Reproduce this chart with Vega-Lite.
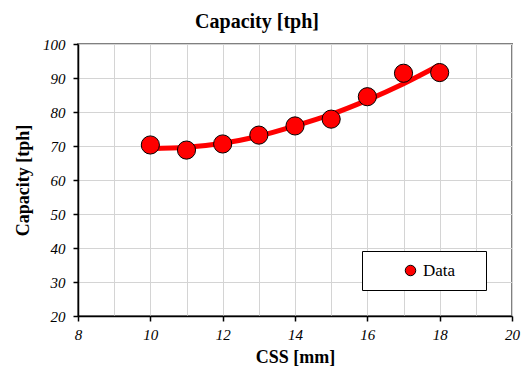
{
  "$schema": "https://vega.github.io/schema/vega-lite/v6.json",
  "width": 434,
  "height": 272,
  "autosize": {"type": "none"},
  "padding": {"left": 78, "top": 44, "right": 12, "bottom": 53},
  "background": "white",
  "config": {
    "font": "Liberation Serif",
    "view": {"stroke": "#808080", "strokeWidth": 2},
    "axis": {"labelFont": "Liberation Serif", "titleFont": "Liberation Serif"},
    "legend": {"labelFont": "Liberation Serif", "titleFont": "Liberation Serif"}
  },
  "title": {
    "text": "Capacity [tph]",
    "font": "Liberation Serif",
    "fontSize": 20,
    "fontWeight": "bold",
    "color": "black",
    "anchor": "middle",
    "dx": -38,
    "offset": 5
  },
  "datasets": {
    "points": [
      {"css": 10, "cap": 70.3, "series": "Data"},
      {"css": 11, "cap": 68.8, "series": "Data"},
      {"css": 12, "cap": 70.6, "series": "Data"},
      {"css": 13, "cap": 73.2, "series": "Data"},
      {"css": 14, "cap": 75.9, "series": "Data"},
      {"css": 15, "cap": 77.9, "series": "Data"},
      {"css": 16, "cap": 84.5, "series": "Data"},
      {"css": 17, "cap": 91.4, "series": "Data"},
      {"css": 18, "cap": 91.6, "series": "Data"}
    ],
    "trend": [
      {"css": 10, "cap": 69.2},
      {"css": 11, "cap": 69.6},
      {"css": 12, "cap": 70.8},
      {"css": 13, "cap": 72.9},
      {"css": 14, "cap": 75.9},
      {"css": 15, "cap": 79.3},
      {"css": 16, "cap": 83.5},
      {"css": 17, "cap": 88.3},
      {"css": 18, "cap": 93.8}
    ]
  },
  "encoding": {
    "x": {
      "field": "css",
      "type": "quantitative",
      "scale": {"domain": [8, 20], "nice": false, "zero": false},
      "axis": {
        "title": "CSS [mm]",
        "values": [8, 9, 10, 11, 12, 13, 14, 15, 16, 17, 18, 19, 20],
        "labelExpr": "datum.value % 2 == 0 ? datum.label : ''",
        "grid": true,
        "gridColor": "#d4d4d4",
        "gridWidth": 1,
        "domainColor": "black",
        "domainWidth": 1.5,
        "tickColor": {"condition": {"test": "datum.value % 2 == 0", "value": "black"}, "value": "transparent"},
        "tickSize": 5,
        "tickWidth": 1.5,
        "labelFont": "Liberation Serif",
        "labelFontStyle": "italic",
        "labelFontSize": 15,
        "labelColor": "black",
        "labelPadding": 6,
        "labelFlush": false,
        "labelOverlap": false,
        "titleFont": "Liberation Serif",
        "titleFontSize": 18,
        "titleFontWeight": "bold",
        "titleColor": "black",
        "titlePadding": 6
      }
    },
    "y": {
      "field": "cap",
      "type": "quantitative",
      "scale": {"domain": [20, 100], "nice": false, "zero": false},
      "axis": {
        "title": "Capacity [tph]",
        "values": [20, 30, 40, 50, 60, 70, 80, 90, 100],
        "grid": true,
        "gridColor": "#d4d4d4",
        "gridWidth": 1,
        "domainColor": "black",
        "domainWidth": 1.5,
        "tickColor": "black",
        "tickSize": 5,
        "tickWidth": 1.5,
        "labelFont": "Liberation Serif",
        "labelFontStyle": "italic",
        "labelFontSize": 15,
        "labelColor": "black",
        "labelPadding": 8,
        "labelOverlap": false,
        "titleFont": "Liberation Serif",
        "titleFontSize": 18,
        "titleFontWeight": "bold",
        "titleColor": "black",
        "titlePadding": 10
      }
    }
  },
  "layer": [
    {
      "data": {"name": "trend"},
      "mark": {"type": "line", "color": "red", "strokeWidth": 5, "interpolate": "monotone"}
    },
    {
      "data": {"name": "points"},
      "mark": {"type": "point", "filled": true, "size": 330, "stroke": "black", "strokeWidth": 1, "opacity": 1, "shape": "circle"},
      "encoding": {
        "fill": {
          "field": "series",
          "type": "nominal",
          "scale": {"range": ["red"]},
          "legend": {
            "orient": "none",
            "legendX": 284,
            "legendY": 207,
            "title": "\u00a0",
            "titleOrient": "right",
            "titlePadding": 20,
            "titleFontSize": 17,
            "strokeColor": "black",
            "fillColor": "white",
            "padding": 11,
            "cornerRadius": 0,
            "symbolType": "circle",
            "symbolSize": 110,
            "symbolStrokeColor": "black",
            "symbolStrokeWidth": 1,
            "symbolOffset": 29,
            "labelFont": "Liberation Serif",
            "labelFontSize": 17,
            "labelColor": "black",
            "labelOffset": 4
          }
        }
      }
    }
  ]
}
